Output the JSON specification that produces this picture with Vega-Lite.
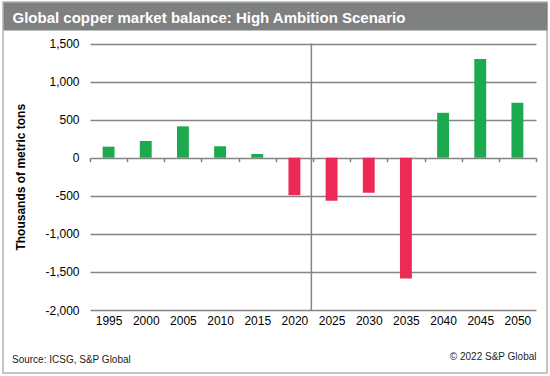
{
  "$schema": "https://vega.github.io/schema/vega-lite/v6.json",
  "width": 544,
  "height": 371,
  "autosize": {"type": "none"},
  "padding": {"left": 3, "top": 2, "right": 3, "bottom": 3},
  "background": "white",
  "title": {
    "text": "Source: ICSG, S&P Global",
    "orient": "bottom",
    "anchor": "start",
    "offset": -18,
    "dx": 9,
    "fontSize": 10,
    "fontWeight": "normal",
    "color": "#222222"
  },
  "config": {
    "font": "Liberation Sans",
    "view": {"stroke": "#b4b4b4", "strokeWidth": 1.5}
  },
  "resolve": {"scale": {"x": "independent"}, "axis": {"x": "independent"}},
  "layer": [
    {
      "data": {
        "values": [
          {"year": "1995", "value": 145},
          {"year": "2000", "value": 220},
          {"year": "2005", "value": 412},
          {"year": "2010", "value": 152},
          {"year": "2015", "value": 50},
          {"year": "2020", "value": -492},
          {"year": "2025", "value": -565},
          {"year": "2030", "value": -460},
          {"year": "2035", "value": -1585},
          {"year": "2040", "value": 590},
          {"year": "2045", "value": 1296},
          {"year": "2050", "value": 722}
        ]
      },
      "mark": {"type": "bar", "width": {"band": 0.32}},
      "encoding": {
        "x": {
          "field": "year",
          "type": "ordinal",
          "scale": {
            "type": "band",
            "domain": ["1995", "2000", "2005", "2010", "2015", "2020", "2025", "2030", "2035", "2040", "2045", "2050"],
            "range": [87, 533],
            "paddingInner": 0,
            "paddingOuter": 0
          },
          "axis": {
            "orient": "bottom",
            "offset": -215.3,
            "domain": false,
            "grid": false,
            "ticks": true,
            "tickBand": "extent",
            "tickSize": 4,
            "tickColor": "#808080",
            "tickWidth": 1.5,
            "labelAngle": 0,
            "labelPadding": 154,
            "labelFontSize": 12,
            "labelColor": "#000000",
            "title": "© 2022 S&P Global",
            "titleAnchor": "end",
            "titleFontSize": 10,
            "titleFontWeight": "normal",
            "titleColor": "#222222",
            "titlePadding": 25
          }
        },
        "y": {
          "field": "value",
          "type": "quantitative",
          "scale": {"domain": [-2000, 1500], "range": [308, 41.5], "nice": false, "zero": false},
          "axis": {
            "orient": "left",
            "offset": -87,
            "values": [-2000, -1500, -1000, -500, 0, 500, 1000, 1500],
            "labelExpr": "datum.value < 0 ? '-' + format(-datum.value, ',') : format(datum.value, ',')",
            "grid": true,
            "gridColor": "#858585",
            "gridWidth": 1.5,
            "domain": false,
            "ticks": false,
            "tickSize": 0,
            "labelPadding": 11,
            "labelFontSize": 12,
            "labelColor": "#000000",
            "title": "Thousands of metric tons",
            "titleFontSize": 12,
            "titleFontWeight": "bold",
            "titleColor": "#000000",
            "titlePadding": 17
          }
        },
        "color": {
          "condition": {"test": "datum.value < 0", "value": "#ec2a55"},
          "value": "#1daa4f"
        }
      }
    },
    {
      "data": {"values": [{"divider": "2025"}]},
      "mark": {"type": "rule", "color": "#858585", "strokeWidth": 1.5},
      "encoding": {
        "x": {
          "field": "divider",
          "type": "ordinal",
          "bandPosition": 0,
          "scale": {
            "type": "band",
            "domain": ["1995", "2000", "2005", "2010", "2015", "2020", "2025", "2030", "2035", "2040", "2045", "2050"],
            "paddingInner": 0,
            "paddingOuter": 1.3184,
            "align": 0.968
          },
          "axis": {
            "orient": "top",
            "offset": -14,
            "domain": true,
            "domainColor": "#7f8080",
            "domainWidth": 28,
            "grid": false,
            "ticks": false,
            "labels": false,
            "title": "Global copper market balance: High Ambition Scenario",
            "titleColor": "#ffffff",
            "titleFontSize": 15,
            "titleFontWeight": "bold",
            "titleAnchor": "start",
            "titleAlign": "left",
            "titleBaseline": "middle",
            "titleX": 9,
            "titleY": 1
          }
        },
        "y": {"datum": 1500, "type": "quantitative"},
        "y2": {"datum": -2000}
      }
    }
  ]
}
